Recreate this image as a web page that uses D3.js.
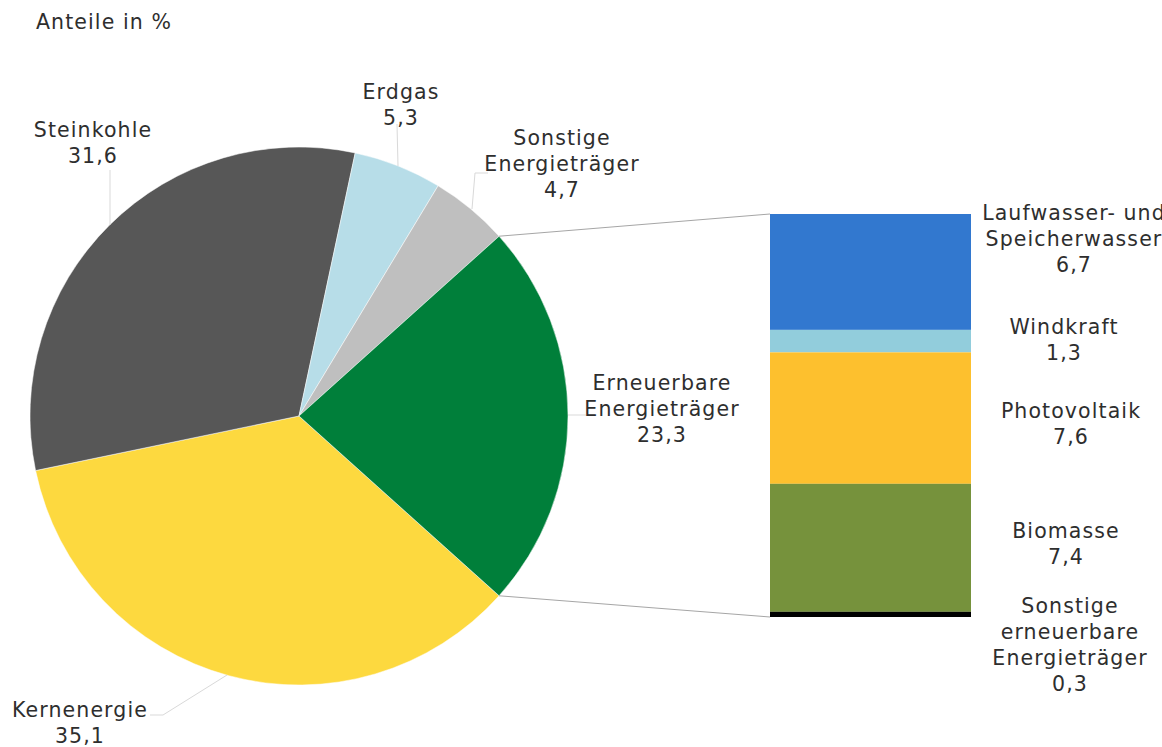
<!DOCTYPE html>
<html>
<head>
<meta charset="utf-8">
<script src="https://cdn.jsdelivr.net/npm/d3@7"></script>
<style>
  body { margin: 0; background: #fff; }
  text { font-family: "DejaVu Sans", Verdana, sans-serif; font-size: 20.5px; letter-spacing: 1.1px; fill: #2e2e2e; }
</style>
</head>
<body>
<svg id="chart" width="1162" height="747"></svg>
<script>
// main pie
const pieNames = ["Kernenergie", "Steinkohle", "Erdgas", "Sonstige Energieträger", "Erneuerbare Energieträger"];
const pieValues = [35.1, 31.6, 5.3, 4.7, 23.3];
const pieColors = ["#fdd93f", "#575757", "#b7dde8", "#bfbfbf", "#007f3a"];

// bar of pie (renewables split)
const barNames = ["Laufwasser- und Speicherwasser", "Windkraft", "Photovoltaik", "Biomasse", "Sonstige erneuerbare Energieträger"];
const barValues = [6.7, 1.3, 7.6, 7.4, 0.3];
const barColors = ["#3278cf", "#92cddc", "#fdc02e", "#76923c", "#000000"];

const fmt = v => v.toFixed(1).replace(".", ",");

// label layout: line breaks + positions
const pieLabelLayout = {
    "Kernenergie":               { lines: ["Kernenergie"], x: 80, y: 717, leader: [[227, 675], [163, 715], [150, 715]] },
    "Steinkohle":                { lines: ["Steinkohle"], x: 93, y: 137, leader: [[110, 225], [110, 170]] },
    "Erdgas":                    { lines: ["Erdgas"], x: 401, y: 99, leader: [[398, 166], [397, 124]] },
    "Sonstige Energieträger":    { lines: ["Sonstige", "Energieträger"], x: 562, y: 145, leader: [[472, 209], [475, 173], [488, 173]] },
    "Erneuerbare Energieträger": { lines: ["Erneuerbare", "Energieträger"], x: 662, y: 390, leader: [[568, 415], [586, 415]] }
};
const barLabelLayout = {
    "Laufwasser- und Speicherwasser":     { lines: ["Laufwasser- und", "Speicherwasser"], x: 1074, y: 220 },
    "Windkraft":                          { lines: ["Windkraft"], x: 1064, y: 334 },
    "Photovoltaik":                       { lines: ["Photovoltaik"], x: 1071, y: 418 },
    "Biomasse":                           { lines: ["Biomasse"], x: 1066, y: 538 },
    "Sonstige erneuerbare Energieträger": { lines: ["Sonstige", "erneuerbare", "Energieträger"], x: 1070, y: 613 }
};
const lineH = 26;

const svg = d3.select("#chart");

svg.append("text").attr("x", 36).attr("y", 29).text("Anteile in %");

// ---- pie ----
const cx = 299, cy = 416, radius = 269;
const total = d3.sum(pieValues);
const ernIdx = pieNames.indexOf("Erneuerbare Energieträger");
// renewables slice centred at 3 o'clock, preceded clockwise by the rest
const start = Math.PI / 2 + (pieValues[ernIdx] / total) * Math.PI;

const pie = d3.pie().sort(null).value(d => d.value).startAngle(start).endAngle(start + 2 * Math.PI);
const arc = d3.arc().innerRadius(0).outerRadius(radius);
const pieData = pie(pieNames.map((n, i) => ({ name: n, value: pieValues[i], color: pieColors[i] })));

const g = svg.append("g").attr("transform", `translate(${cx},${cy})`);
g.selectAll("path").data(pieData).enter().append("path")
    .attr("d", arc)
    .attr("fill", d => d.data.color)
    .attr("stroke", "#fff")
    .attr("stroke-width", 0.5);

// ---- stacked bar ----
const barX = 770, barW = 201;
const y = d3.scaleLinear().domain([0, d3.sum(barValues)]).range([214, 617]);
const cum = d3.cumsum(barValues);
const barData = barNames.map((n, i) => ({ name: n, value: barValues[i], color: barColors[i], y0: cum[i] - barValues[i], y1: cum[i] }));

svg.append("g").selectAll("rect").data(barData).enter().append("rect")
    .attr("x", barX).attr("width", barW)
    .attr("y", d => y(d.y0))
    .attr("height", d => y(d.y1) - y(d.y0))
    .attr("fill", d => d.color);

// connector lines from renewables slice edges to the bar
const ern = pieData[ernIdx];
const pt = a => [cx + radius * Math.sin(a), cy - radius * Math.cos(a)];
const conn = [[pt(ern.startAngle), [barX, y(0)]], [pt(ern.endAngle), [barX, y(d3.sum(barValues))]]];
svg.append("g").selectAll("line").data(conn).enter().append("line")
    .attr("x1", d => d[0][0]).attr("y1", d => d[0][1])
    .attr("x2", d => d[1][0]).attr("y2", d => d[1][1])
    .attr("stroke", "#a6a6a6").attr("stroke-width", 1);

// ---- labels ----
const line = d3.line();
pieData.forEach(d => {
    const lay = pieLabelLayout[d.data.name];
    svg.append("path").attr("d", line(lay.leader))
        .attr("fill", "none").attr("stroke", "#d9d9d9").attr("stroke-width", 1);
    const t = svg.append("text").attr("text-anchor", "middle");
    lay.lines.concat([fmt(d.data.value)]).forEach((s, i) => {
        t.append("tspan").attr("x", lay.x).attr("y", lay.y + i * lineH).text(s);
    });
});

barData.forEach(d => {
    const lay = barLabelLayout[d.name];
    const t = svg.append("text").attr("text-anchor", "middle");
    lay.lines.concat([fmt(d.value)]).forEach((s, i) => {
        t.append("tspan").attr("x", lay.x).attr("y", lay.y + i * lineH).text(s);
    });
});
</script>
</body>
</html>
